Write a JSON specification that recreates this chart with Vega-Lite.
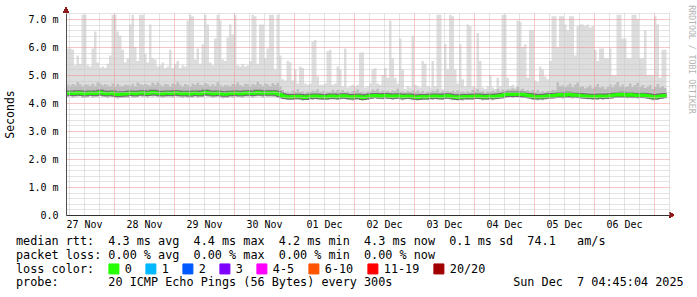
{
  "$schema": "https://vega.github.io/schema/vega-lite/v6.json",
  "width": 603,
  "height": 202,
  "autosize": "none",
  "padding": {"left": 66, "top": 13, "right": 28, "bottom": 82},
  "background": "white",
  "config": {
    "view": {"stroke": null},
    "font": "DejaVu Sans Mono",
    "axis": {"labelFont": "DejaVu Sans Mono", "labelFontSize": 10, "labelColor": "#000000", "titleFont": "DejaVu Sans Mono", "titleFontWeight": "normal", "titleColor": "#000000"}
  },
  "title": {
    "text": [
      "median rtt:\u00a0\u00a04.3 ms avg\u00a0\u00a04.4 ms max\u00a0\u00a04.2 ms min\u00a0\u00a04.3 ms now\u00a0\u00a00.1 ms sd\u00a0\u00a074.1\u00a0\u00a0\u00a0am/s",
      "packet loss: 0.00 % avg\u00a0\u00a00.00 % max\u00a0\u00a00.00 % min\u00a0\u00a00.00 % now",
      "loss color:",
      "probe:\u00a0\u00a0\u00a0\u00a0\u00a0\u00a0\u00a020 ICMP Echo Pings (56 Bytes) every 300s\u00a0\u00a0\u00a0\u00a0\u00a0\u00a0\u00a0\u00a0\u00a0\u00a0\u00a0\u00a0\u00a0\u00a0\u00a0\u00a0\u00a0Sun Dec\u00a0\u00a07 04:45:04 2025"
    ],
    "orient": "bottom",
    "anchor": "start",
    "frame": "group",
    "dx": -50,
    "offset": -40,
    "font": "DejaVu Sans Mono",
    "fontSize": 11.8,
    "fontWeight": "normal",
    "color": "#000000",
    "lineHeight": 13.8,
    "baseline": "top"
  },
  "data": {"values": [
{"t":"2025-11-27T05:00","lo":4.21,"mu":4.65,"m":4.35,"hi":5.95,"loss":"0"},
{"t":"2025-11-27T06:00","lo":4.24,"mu":4.62,"m":4.36,"hi":5.95,"loss":"0"},
{"t":"2025-11-27T07:00","lo":4.19,"mu":4.68,"m":4.34,"hi":5.9,"loss":"0"},
{"t":"2025-11-27T08:00","lo":4.22,"mu":4.63,"m":4.35,"hi":5.35,"loss":"0"},
{"t":"2025-11-27T09:00","lo":4.23,"mu":4.75,"m":4.37,"hi":5.7,"loss":"0"},
{"t":"2025-11-27T10:00","lo":4.24,"mu":4.67,"m":4.36,"hi":5.4,"loss":"0"},
{"t":"2025-11-27T11:00","lo":4.19,"mu":4.61,"m":4.34,"hi":7.15,"loss":"0"},
{"t":"2025-11-27T12:00","lo":4.20,"mu":4.66,"m":4.33,"hi":7.15,"loss":"0"},
{"t":"2025-11-27T13:00","lo":4.21,"mu":4.65,"m":4.35,"hi":5.35,"loss":"0"},
{"t":"2025-11-27T14:00","lo":4.24,"mu":4.62,"m":4.36,"hi":5.3,"loss":"0"},
{"t":"2025-11-27T15:00","lo":4.20,"mu":4.69,"m":4.35,"hi":5.95,"loss":"0"},
{"t":"2025-11-27T16:00","lo":4.21,"mu":4.62,"m":4.34,"hi":6.55,"loss":"0"},
{"t":"2025-11-27T17:00","lo":4.22,"mu":4.74,"m":4.36,"hi":5.45,"loss":"0"},
{"t":"2025-11-27T18:00","lo":4.26,"mu":4.69,"m":4.38,"hi":5.25,"loss":"0"},
{"t":"2025-11-27T19:00","lo":4.21,"mu":4.63,"m":4.36,"hi":5.3,"loss":"0"},
{"t":"2025-11-27T20:00","lo":4.21,"mu":4.67,"m":4.34,"hi":5.25,"loss":"0"},
{"t":"2025-11-27T21:00","lo":4.19,"mu":4.63,"m":4.33,"hi":5.4,"loss":"0"},
{"t":"2025-11-27T22:00","lo":4.23,"mu":4.61,"m":4.35,"hi":5.7,"loss":"0"},
{"t":"2025-11-27T23:00","lo":4.21,"mu":4.70,"m":4.36,"hi":7.15,"loss":"0"},
{"t":"2025-11-28T00:00","lo":4.19,"mu":4.60,"m":4.32,"hi":7.15,"loss":"0"},
{"t":"2025-11-28T01:00","lo":4.16,"mu":4.68,"m":4.30,"hi":6.55,"loss":"0"},
{"t":"2025-11-28T02:00","lo":4.19,"mu":4.62,"m":4.31,"hi":6.4,"loss":"0"},
{"t":"2025-11-28T03:00","lo":4.18,"mu":4.60,"m":4.33,"hi":5.9,"loss":"0"},
{"t":"2025-11-28T04:00","lo":4.19,"mu":4.65,"m":4.32,"hi":5.45,"loss":"0"},
{"t":"2025-11-28T05:00","lo":4.20,"mu":4.64,"m":4.34,"hi":5.6,"loss":"0"},
{"t":"2025-11-28T06:00","lo":4.24,"mu":4.62,"m":4.36,"hi":6.8,"loss":"0"},
{"t":"2025-11-28T07:00","lo":4.20,"mu":4.69,"m":4.35,"hi":7.15,"loss":"0"},
{"t":"2025-11-28T08:00","lo":4.20,"mu":4.61,"m":4.33,"hi":6.0,"loss":"0"},
{"t":"2025-11-28T09:00","lo":4.21,"mu":4.73,"m":4.35,"hi":5.5,"loss":"0"},
{"t":"2025-11-28T10:00","lo":4.24,"mu":4.67,"m":4.36,"hi":7.15,"loss":"0"},
{"t":"2025-11-28T11:00","lo":4.22,"mu":4.64,"m":4.37,"hi":7.15,"loss":"0"},
{"t":"2025-11-28T12:00","lo":4.22,"mu":4.68,"m":4.35,"hi":5.75,"loss":"0"},
{"t":"2025-11-28T13:00","lo":4.20,"mu":4.64,"m":4.34,"hi":5.45,"loss":"0"},
{"t":"2025-11-28T14:00","lo":4.24,"mu":4.62,"m":4.36,"hi":6.8,"loss":"0"},
{"t":"2025-11-28T15:00","lo":4.23,"mu":4.72,"m":4.38,"hi":5.6,"loss":"0"},
{"t":"2025-11-28T16:00","lo":4.24,"mu":4.65,"m":4.37,"hi":5.55,"loss":"0"},
{"t":"2025-11-28T17:00","lo":4.21,"mu":4.73,"m":4.35,"hi":5.3,"loss":"0"},
{"t":"2025-11-28T18:00","lo":4.22,"mu":4.65,"m":4.34,"hi":5.35,"loss":"0"},
{"t":"2025-11-28T19:00","lo":4.18,"mu":4.60,"m":4.33,"hi":5.45,"loss":"0"},
{"t":"2025-11-28T20:00","lo":4.22,"mu":4.68,"m":4.35,"hi":5.25,"loss":"0"},
{"t":"2025-11-28T21:00","lo":4.22,"mu":4.66,"m":4.36,"hi":5.3,"loss":"0"},
{"t":"2025-11-28T22:00","lo":4.22,"mu":4.60,"m":4.34,"hi":5.9,"loss":"0"},
{"t":"2025-11-28T23:00","lo":4.20,"mu":4.69,"m":4.35,"hi":5.25,"loss":"0"},
{"t":"2025-11-29T00:00","lo":4.24,"mu":4.65,"m":4.37,"hi":5.4,"loss":"0"},
{"t":"2025-11-29T01:00","lo":4.22,"mu":4.74,"m":4.36,"hi":5.5,"loss":"0"},
{"t":"2025-11-29T02:00","lo":4.22,"mu":4.65,"m":4.34,"hi":5.25,"loss":"0"},
{"t":"2025-11-29T03:00","lo":4.18,"mu":4.60,"m":4.33,"hi":5.35,"loss":"0"},
{"t":"2025-11-29T04:00","lo":4.22,"mu":4.68,"m":4.35,"hi":5.3,"loss":"0"},
{"t":"2025-11-29T05:00","lo":4.20,"mu":4.64,"m":4.34,"hi":6.95,"loss":"0"},
{"t":"2025-11-29T06:00","lo":4.20,"mu":4.58,"m":4.32,"hi":7.15,"loss":"0"},
{"t":"2025-11-29T07:00","lo":4.20,"mu":4.69,"m":4.35,"hi":7.1,"loss":"0"},
{"t":"2025-11-29T08:00","lo":4.23,"mu":4.64,"m":4.36,"hi":5.55,"loss":"0"},
{"t":"2025-11-29T09:00","lo":4.20,"mu":4.72,"m":4.34,"hi":5.95,"loss":"0"},
{"t":"2025-11-29T10:00","lo":4.21,"mu":4.64,"m":4.33,"hi":5.4,"loss":"0"},
{"t":"2025-11-29T11:00","lo":4.21,"mu":4.63,"m":4.36,"hi":6.1,"loss":"0"},
{"t":"2025-11-29T12:00","lo":4.25,"mu":4.71,"m":4.38,"hi":7.15,"loss":"0"},
{"t":"2025-11-29T13:00","lo":4.23,"mu":4.67,"m":4.37,"hi":6.8,"loss":"0"},
{"t":"2025-11-29T14:00","lo":4.23,"mu":4.61,"m":4.35,"hi":5.45,"loss":"0"},
{"t":"2025-11-29T15:00","lo":4.18,"mu":4.67,"m":4.33,"hi":5.35,"loss":"0"},
{"t":"2025-11-29T16:00","lo":4.21,"mu":4.62,"m":4.34,"hi":6.3,"loss":"0"},
{"t":"2025-11-29T17:00","lo":4.22,"mu":4.74,"m":4.36,"hi":7.15,"loss":"0"},
{"t":"2025-11-29T18:00","lo":4.22,"mu":4.65,"m":4.34,"hi":6.95,"loss":"0"},
{"t":"2025-11-29T19:00","lo":4.17,"mu":4.59,"m":4.32,"hi":5.55,"loss":"0"},
{"t":"2025-11-29T20:00","lo":4.18,"mu":4.64,"m":4.31,"hi":5.5,"loss":"0"},
{"t":"2025-11-29T21:00","lo":4.19,"mu":4.63,"m":4.33,"hi":6.35,"loss":"0"},
{"t":"2025-11-29T22:00","lo":4.23,"mu":4.61,"m":4.35,"hi":6.8,"loss":"0"},
{"t":"2025-11-29T23:00","lo":4.19,"mu":4.68,"m":4.34,"hi":6.45,"loss":"0"},
{"t":"2025-11-30T00:00","lo":4.23,"mu":4.64,"m":4.36,"hi":7.15,"loss":"0"},
{"t":"2025-11-30T01:00","lo":4.21,"mu":4.73,"m":4.35,"hi":5.35,"loss":"0"},
{"t":"2025-11-30T02:00","lo":4.21,"mu":4.64,"m":4.33,"hi":5.3,"loss":"0"},
{"t":"2025-11-30T03:00","lo":4.19,"mu":4.61,"m":4.34,"hi":5.4,"loss":"0"},
{"t":"2025-11-30T04:00","lo":4.23,"mu":4.69,"m":4.36,"hi":5.3,"loss":"0"},
{"t":"2025-11-30T05:00","lo":4.23,"mu":4.67,"m":4.37,"hi":5.35,"loss":"0"},
{"t":"2025-11-30T06:00","lo":4.23,"mu":4.61,"m":4.35,"hi":5.5,"loss":"0"},
{"t":"2025-11-30T07:00","lo":4.19,"mu":4.68,"m":4.34,"hi":7.15,"loss":"0"},
{"t":"2025-11-30T08:00","lo":4.23,"mu":4.64,"m":4.36,"hi":7.1,"loss":"0"},
{"t":"2025-11-30T09:00","lo":4.24,"mu":4.76,"m":4.38,"hi":5.4,"loss":"0"},
{"t":"2025-11-30T10:00","lo":4.24,"mu":4.67,"m":4.36,"hi":6.8,"loss":"0"},
{"t":"2025-11-30T11:00","lo":4.20,"mu":4.62,"m":4.35,"hi":6.8,"loss":"0"},
{"t":"2025-11-30T12:00","lo":4.24,"mu":4.70,"m":4.37,"hi":5.6,"loss":"0"},
{"t":"2025-11-30T13:00","lo":4.22,"mu":4.66,"m":4.36,"hi":5.95,"loss":"0"},
{"t":"2025-11-30T14:00","lo":4.23,"mu":4.61,"m":4.35,"hi":7.15,"loss":"0"},
{"t":"2025-11-30T15:00","lo":4.22,"mu":4.71,"m":4.37,"hi":7.15,"loss":"0"},
{"t":"2025-11-30T16:00","lo":4.23,"mu":4.64,"m":4.36,"hi":5.2,"loss":"0"},
{"t":"2025-11-30T17:00","lo":4.19,"mu":4.71,"m":4.33,"hi":7.15,"loss":"0"},
{"t":"2025-11-30T18:00","lo":4.18,"mu":4.61,"m":4.30,"hi":5.7,"loss":"0"},
{"t":"2025-11-30T19:00","lo":4.14,"mu":4.46,"m":4.26,"hi":4.85,"loss":"0"},
{"t":"2025-11-30T20:00","lo":4.14,"mu":4.37,"m":4.23,"hi":4.8,"loss":"0"},
{"t":"2025-11-30T21:00","lo":4.11,"mu":4.40,"m":4.22,"hi":5.5,"loss":"0"},
{"t":"2025-11-30T22:00","lo":4.11,"mu":4.36,"m":4.21,"hi":5.45,"loss":"0"},
{"t":"2025-11-30T23:00","lo":4.11,"mu":4.45,"m":4.23,"hi":4.8,"loss":"0"},
{"t":"2025-12-01T00:00","lo":4.13,"mu":4.39,"m":4.22,"hi":5.2,"loss":"0"},
{"t":"2025-12-01T01:00","lo":4.13,"mu":4.49,"m":4.24,"hi":4.7,"loss":"0"},
{"t":"2025-12-01T02:00","lo":4.13,"mu":4.39,"m":4.23,"hi":5.3,"loss":"0"},
{"t":"2025-12-01T03:00","lo":4.09,"mu":4.41,"m":4.21,"hi":5.25,"loss":"0"},
{"t":"2025-12-01T04:00","lo":4.11,"mu":4.34,"m":4.20,"hi":4.7,"loss":"0"},
{"t":"2025-12-01T05:00","lo":4.11,"mu":4.40,"m":4.22,"hi":4.65,"loss":"0"},
{"t":"2025-12-01T06:00","lo":4.14,"mu":4.39,"m":4.24,"hi":4.7,"loss":"0"},
{"t":"2025-12-01T07:00","lo":4.11,"mu":4.45,"m":4.23,"hi":6.2,"loss":"0"},
{"t":"2025-12-01T08:00","lo":4.16,"mu":4.42,"m":4.25,"hi":6.25,"loss":"0"},
{"t":"2025-12-01T09:00","lo":4.13,"mu":4.49,"m":4.24,"hi":4.95,"loss":"0"},
{"t":"2025-12-01T10:00","lo":4.12,"mu":4.38,"m":4.22,"hi":4.65,"loss":"0"},
{"t":"2025-12-01T11:00","lo":4.11,"mu":4.43,"m":4.23,"hi":4.65,"loss":"0"},
{"t":"2025-12-01T12:00","lo":4.12,"mu":4.35,"m":4.21,"hi":4.7,"loss":"0"},
{"t":"2025-12-01T13:00","lo":4.11,"mu":4.40,"m":4.22,"hi":5.85,"loss":"0"},
{"t":"2025-12-01T14:00","lo":4.14,"mu":4.39,"m":4.24,"hi":5.9,"loss":"0"},
{"t":"2025-12-01T15:00","lo":4.13,"mu":4.47,"m":4.25,"hi":4.65,"loss":"0"},
{"t":"2025-12-01T16:00","lo":4.14,"mu":4.40,"m":4.23,"hi":4.7,"loss":"0"},
{"t":"2025-12-01T17:00","lo":4.11,"mu":4.47,"m":4.22,"hi":5.3,"loss":"0"},
{"t":"2025-12-01T18:00","lo":4.14,"mu":4.40,"m":4.24,"hi":5.2,"loss":"0"},
{"t":"2025-12-01T19:00","lo":4.14,"mu":4.46,"m":4.26,"hi":4.6,"loss":"0"},
{"t":"2025-12-01T20:00","lo":4.16,"mu":4.39,"m":4.25,"hi":5.95,"loss":"0"},
{"t":"2025-12-01T21:00","lo":4.12,"mu":4.41,"m":4.23,"hi":4.55,"loss":"0"},
{"t":"2025-12-01T22:00","lo":4.12,"mu":4.37,"m":4.22,"hi":4.6,"loss":"0"},
{"t":"2025-12-01T23:00","lo":4.09,"mu":4.43,"m":4.21,"hi":4.65,"loss":"0"},
{"t":"2025-12-02T00:00","lo":4.14,"mu":4.40,"m":4.23,"hi":4.6,"loss":"0"},
{"t":"2025-12-02T01:00","lo":4.13,"mu":4.49,"m":4.24,"hi":4.65,"loss":"0"},
{"t":"2025-12-02T02:00","lo":4.12,"mu":4.38,"m":4.22,"hi":5.8,"loss":"0"},
{"t":"2025-12-02T03:00","lo":4.08,"mu":4.40,"m":4.20,"hi":5.8,"loss":"0"},
{"t":"2025-12-02T04:00","lo":4.12,"mu":4.35,"m":4.21,"hi":4.55,"loss":"0"},
{"t":"2025-12-02T05:00","lo":4.12,"mu":4.41,"m":4.23,"hi":4.6,"loss":"0"},
{"t":"2025-12-02T06:00","lo":4.15,"mu":4.40,"m":4.25,"hi":4.7,"loss":"0"},
{"t":"2025-12-02T07:00","lo":4.14,"mu":4.48,"m":4.26,"hi":5.2,"loss":"0"},
{"t":"2025-12-02T08:00","lo":4.18,"mu":4.44,"m":4.27,"hi":5.25,"loss":"0"},
{"t":"2025-12-02T09:00","lo":4.15,"mu":4.51,"m":4.26,"hi":4.7,"loss":"0"},
{"t":"2025-12-02T10:00","lo":4.14,"mu":4.40,"m":4.24,"hi":4.65,"loss":"0"},
{"t":"2025-12-02T11:00","lo":4.13,"mu":4.45,"m":4.25,"hi":5.0,"loss":"0"},
{"t":"2025-12-02T12:00","lo":4.18,"mu":4.41,"m":4.27,"hi":5.25,"loss":"0"},
{"t":"2025-12-02T13:00","lo":4.15,"mu":4.44,"m":4.26,"hi":4.9,"loss":"0"},
{"t":"2025-12-02T14:00","lo":4.14,"mu":4.39,"m":4.24,"hi":6.95,"loss":"0"},
{"t":"2025-12-02T15:00","lo":4.11,"mu":4.45,"m":4.23,"hi":5.6,"loss":"0"},
{"t":"2025-12-02T16:00","lo":4.16,"mu":4.42,"m":4.25,"hi":4.9,"loss":"0"},
{"t":"2025-12-02T17:00","lo":4.15,"mu":4.51,"m":4.26,"hi":4.7,"loss":"0"},
{"t":"2025-12-02T18:00","lo":4.14,"mu":4.40,"m":4.24,"hi":6.3,"loss":"0"},
{"t":"2025-12-02T19:00","lo":4.10,"mu":4.42,"m":4.22,"hi":5.2,"loss":"0"},
{"t":"2025-12-02T20:00","lo":4.14,"mu":4.37,"m":4.23,"hi":4.5,"loss":"0"},
{"t":"2025-12-02T21:00","lo":4.14,"mu":4.43,"m":4.25,"hi":4.6,"loss":"0"},
{"t":"2025-12-02T22:00","lo":4.14,"mu":4.39,"m":4.24,"hi":4.55,"loss":"0"},
{"t":"2025-12-02T23:00","lo":4.10,"mu":4.44,"m":4.22,"hi":6.4,"loss":"0"},
{"t":"2025-12-03T00:00","lo":4.12,"mu":4.38,"m":4.21,"hi":4.65,"loss":"0"},
{"t":"2025-12-03T01:00","lo":4.09,"mu":4.45,"m":4.20,"hi":4.6,"loss":"0"},
{"t":"2025-12-03T02:00","lo":4.12,"mu":4.38,"m":4.22,"hi":4.55,"loss":"0"},
{"t":"2025-12-03T03:00","lo":4.11,"mu":4.43,"m":4.23,"hi":5.5,"loss":"0"},
{"t":"2025-12-03T04:00","lo":4.12,"mu":4.35,"m":4.21,"hi":5.4,"loss":"0"},
{"t":"2025-12-03T05:00","lo":4.11,"mu":4.40,"m":4.22,"hi":4.6,"loss":"0"},
{"t":"2025-12-03T06:00","lo":4.14,"mu":4.39,"m":4.24,"hi":4.55,"loss":"0"},
{"t":"2025-12-03T07:00","lo":4.11,"mu":4.45,"m":4.23,"hi":5.5,"loss":"0"},
{"t":"2025-12-03T08:00","lo":4.16,"mu":4.42,"m":4.25,"hi":4.6,"loss":"0"},
{"t":"2025-12-03T09:00","lo":4.13,"mu":4.49,"m":4.24,"hi":7.15,"loss":"0"},
{"t":"2025-12-03T10:00","lo":4.12,"mu":4.38,"m":4.22,"hi":7.15,"loss":"0"},
{"t":"2025-12-03T11:00","lo":4.11,"mu":4.43,"m":4.23,"hi":4.5,"loss":"0"},
{"t":"2025-12-03T12:00","lo":4.16,"mu":4.39,"m":4.25,"hi":6.1,"loss":"0"},
{"t":"2025-12-03T13:00","lo":4.15,"mu":4.44,"m":4.26,"hi":5.2,"loss":"0"},
{"t":"2025-12-03T14:00","lo":4.14,"mu":4.39,"m":4.24,"hi":7.15,"loss":"0"},
{"t":"2025-12-03T15:00","lo":4.10,"mu":4.44,"m":4.22,"hi":7.1,"loss":"0"},
{"t":"2025-12-03T16:00","lo":4.12,"mu":4.38,"m":4.21,"hi":5.2,"loss":"0"},
{"t":"2025-12-03T17:00","lo":4.09,"mu":4.45,"m":4.20,"hi":4.7,"loss":"0"},
{"t":"2025-12-03T18:00","lo":4.12,"mu":4.38,"m":4.22,"hi":6.1,"loss":"0"},
{"t":"2025-12-03T19:00","lo":4.09,"mu":4.41,"m":4.21,"hi":4.85,"loss":"0"},
{"t":"2025-12-03T20:00","lo":4.14,"mu":4.37,"m":4.23,"hi":4.6,"loss":"0"},
{"t":"2025-12-03T21:00","lo":4.12,"mu":4.41,"m":4.23,"hi":6.8,"loss":"0"},
{"t":"2025-12-03T22:00","lo":4.12,"mu":4.37,"m":4.22,"hi":6.75,"loss":"0"},
{"t":"2025-12-03T23:00","lo":4.12,"mu":4.46,"m":4.24,"hi":4.6,"loss":"0"},
{"t":"2025-12-04T00:00","lo":4.14,"mu":4.40,"m":4.23,"hi":4.55,"loss":"0"},
{"t":"2025-12-04T01:00","lo":4.14,"mu":4.50,"m":4.25,"hi":6.5,"loss":"0"},
{"t":"2025-12-04T02:00","lo":4.14,"mu":4.40,"m":4.24,"hi":5.5,"loss":"0"},
{"t":"2025-12-04T03:00","lo":4.10,"mu":4.42,"m":4.22,"hi":4.55,"loss":"0"},
{"t":"2025-12-04T04:00","lo":4.12,"mu":4.35,"m":4.21,"hi":4.5,"loss":"0"},
{"t":"2025-12-04T05:00","lo":4.12,"mu":4.41,"m":4.23,"hi":4.6,"loss":"0"},
{"t":"2025-12-04T06:00","lo":4.14,"mu":4.39,"m":4.24,"hi":5.0,"loss":"0"},
{"t":"2025-12-04T07:00","lo":4.10,"mu":4.44,"m":4.22,"hi":4.55,"loss":"0"},
{"t":"2025-12-04T08:00","lo":4.14,"mu":4.40,"m":4.23,"hi":4.5,"loss":"0"},
{"t":"2025-12-04T09:00","lo":4.14,"mu":4.50,"m":4.25,"hi":4.9,"loss":"0"},
{"t":"2025-12-04T10:00","lo":4.16,"mu":4.42,"m":4.26,"hi":4.6,"loss":"0"},
{"t":"2025-12-04T11:00","lo":4.16,"mu":4.48,"m":4.28,"hi":7.15,"loss":"0"},
{"t":"2025-12-04T12:00","lo":4.21,"mu":4.44,"m":4.30,"hi":7.15,"loss":"0"},
{"t":"2025-12-04T13:00","lo":4.20,"mu":4.49,"m":4.31,"hi":4.9,"loss":"0"},
{"t":"2025-12-04T14:00","lo":4.22,"mu":4.47,"m":4.32,"hi":4.6,"loss":"0"},
{"t":"2025-12-04T15:00","lo":4.18,"mu":4.52,"m":4.30,"hi":4.65,"loss":"0"},
{"t":"2025-12-04T16:00","lo":4.22,"mu":4.48,"m":4.31,"hi":4.55,"loss":"0"},
{"t":"2025-12-04T17:00","lo":4.21,"mu":4.57,"m":4.32,"hi":6.95,"loss":"0"},
{"t":"2025-12-04T18:00","lo":4.20,"mu":4.46,"m":4.30,"hi":6.9,"loss":"0"},
{"t":"2025-12-04T19:00","lo":4.19,"mu":4.51,"m":4.31,"hi":6.0,"loss":"0"},
{"t":"2025-12-04T20:00","lo":4.20,"mu":4.43,"m":4.29,"hi":6.1,"loss":"0"},
{"t":"2025-12-04T21:00","lo":4.17,"mu":4.46,"m":4.28,"hi":4.9,"loss":"0"},
{"t":"2025-12-04T22:00","lo":4.16,"mu":4.41,"m":4.26,"hi":6.6,"loss":"0"},
{"t":"2025-12-04T23:00","lo":4.12,"mu":4.46,"m":4.24,"hi":6.6,"loss":"0"},
{"t":"2025-12-05T00:00","lo":4.13,"mu":4.39,"m":4.22,"hi":4.8,"loss":"0"},
{"t":"2025-12-05T01:00","lo":4.10,"mu":4.46,"m":4.21,"hi":4.75,"loss":"0"},
{"t":"2025-12-05T02:00","lo":4.13,"mu":4.39,"m":4.23,"hi":5.3,"loss":"0"},
{"t":"2025-12-05T03:00","lo":4.10,"mu":4.42,"m":4.22,"hi":5.2,"loss":"0"},
{"t":"2025-12-05T04:00","lo":4.15,"mu":4.38,"m":4.24,"hi":4.95,"loss":"0"},
{"t":"2025-12-05T05:00","lo":4.14,"mu":4.43,"m":4.25,"hi":4.85,"loss":"0"},
{"t":"2025-12-05T06:00","lo":4.17,"mu":4.42,"m":4.27,"hi":5.5,"loss":"0"},
{"t":"2025-12-05T07:00","lo":4.14,"mu":4.48,"m":4.26,"hi":7.1,"loss":"0"},
{"t":"2025-12-05T08:00","lo":4.19,"mu":4.45,"m":4.28,"hi":7.1,"loss":"0"},
{"t":"2025-12-05T09:00","lo":4.18,"mu":4.74,"m":4.29,"hi":6.0,"loss":"0"},
{"t":"2025-12-05T10:00","lo":4.20,"mu":4.60,"m":4.30,"hi":7.1,"loss":"0"},
{"t":"2025-12-05T11:00","lo":4.16,"mu":4.63,"m":4.28,"hi":7.1,"loss":"0"},
{"t":"2025-12-05T12:00","lo":4.20,"mu":4.56,"m":4.29,"hi":6.8,"loss":"0"},
{"t":"2025-12-05T13:00","lo":4.20,"mu":4.63,"m":4.31,"hi":6.6,"loss":"0"},
{"t":"2025-12-05T14:00","lo":4.20,"mu":4.70,"m":4.30,"hi":7.1,"loss":"0"},
{"t":"2025-12-05T15:00","lo":4.16,"mu":4.56,"m":4.28,"hi":7.1,"loss":"0"},
{"t":"2025-12-05T16:00","lo":4.20,"mu":4.65,"m":4.29,"hi":5.7,"loss":"0"},
{"t":"2025-12-05T17:00","lo":4.17,"mu":4.73,"m":4.28,"hi":6.75,"loss":"0"},
{"t":"2025-12-05T18:00","lo":4.17,"mu":4.57,"m":4.27,"hi":6.8,"loss":"0"},
{"t":"2025-12-05T19:00","lo":4.14,"mu":4.61,"m":4.26,"hi":6.8,"loss":"0"},
{"t":"2025-12-05T20:00","lo":4.16,"mu":4.52,"m":4.25,"hi":6.75,"loss":"0"},
{"t":"2025-12-05T21:00","lo":4.13,"mu":4.56,"m":4.24,"hi":6.8,"loss":"0"},
{"t":"2025-12-05T22:00","lo":4.13,"mu":4.63,"m":4.23,"hi":6.7,"loss":"0"},
{"t":"2025-12-05T23:00","lo":4.12,"mu":4.52,"m":4.24,"hi":6.75,"loss":"0"},
{"t":"2025-12-06T00:00","lo":4.13,"mu":4.58,"m":4.22,"hi":5.9,"loss":"0"},
{"t":"2025-12-06T01:00","lo":4.12,"mu":4.68,"m":4.23,"hi":5.5,"loss":"0"},
{"t":"2025-12-06T02:00","lo":4.15,"mu":4.55,"m":4.25,"hi":5.95,"loss":"0"},
{"t":"2025-12-06T03:00","lo":4.12,"mu":4.59,"m":4.24,"hi":5.95,"loss":"0"},
{"t":"2025-12-06T04:00","lo":4.14,"mu":4.50,"m":4.23,"hi":5.6,"loss":"0"},
{"t":"2025-12-06T05:00","lo":4.14,"mu":4.57,"m":4.25,"hi":5.6,"loss":"0"},
{"t":"2025-12-06T06:00","lo":4.16,"mu":4.66,"m":4.26,"hi":5.95,"loss":"0"},
{"t":"2025-12-06T07:00","lo":4.16,"mu":4.56,"m":4.28,"hi":5.0,"loss":"0"},
{"t":"2025-12-06T08:00","lo":4.20,"mu":4.65,"m":4.29,"hi":5.0,"loss":"0"},
{"t":"2025-12-06T09:00","lo":4.19,"mu":4.75,"m":4.30,"hi":7.15,"loss":"0"},
{"t":"2025-12-06T10:00","lo":4.19,"mu":4.59,"m":4.29,"hi":7.15,"loss":"0"},
{"t":"2025-12-06T11:00","lo":4.19,"mu":4.66,"m":4.31,"hi":6.3,"loss":"0"},
{"t":"2025-12-06T12:00","lo":4.20,"mu":4.56,"m":4.29,"hi":6.3,"loss":"0"},
{"t":"2025-12-06T13:00","lo":4.17,"mu":4.60,"m":4.28,"hi":5.6,"loss":"0"},
{"t":"2025-12-06T14:00","lo":4.20,"mu":4.70,"m":4.30,"hi":5.6,"loss":"0"},
{"t":"2025-12-06T15:00","lo":4.17,"mu":4.57,"m":4.29,"hi":7.15,"loss":"0"},
{"t":"2025-12-06T16:00","lo":4.19,"mu":4.64,"m":4.28,"hi":7.15,"loss":"0"},
{"t":"2025-12-06T17:00","lo":4.16,"mu":4.72,"m":4.27,"hi":7.0,"loss":"0"},
{"t":"2025-12-06T18:00","lo":4.18,"mu":4.58,"m":4.28,"hi":5.6,"loss":"0"},
{"t":"2025-12-06T19:00","lo":4.17,"mu":4.64,"m":4.29,"hi":5.6,"loss":"0"},
{"t":"2025-12-06T20:00","lo":4.18,"mu":4.54,"m":4.27,"hi":6.6,"loss":"0"},
{"t":"2025-12-06T21:00","lo":4.15,"mu":4.58,"m":4.26,"hi":5.0,"loss":"0"},
{"t":"2025-12-06T22:00","lo":4.14,"mu":4.64,"m":4.24,"hi":5.0,"loss":"0"},
{"t":"2025-12-06T23:00","lo":4.10,"mu":4.50,"m":4.22,"hi":5.0,"loss":"0"},
{"t":"2025-12-07T00:00","lo":4.12,"mu":4.57,"m":4.21,"hi":7.1,"loss":"0"},
{"t":"2025-12-07T01:00","lo":4.12,"mu":4.68,"m":4.23,"hi":6.8,"loss":"0"},
{"t":"2025-12-07T02:00","lo":4.15,"mu":4.55,"m":4.25,"hi":4.9,"loss":"0"},
{"t":"2025-12-07T03:00","lo":4.14,"mu":4.61,"m":4.26,"hi":5.9,"loss":"0"},
{"t":"2025-12-07T04:00","lo":4.18,"mu":4.54,"m":4.27,"hi":5.9,"loss":"0"},
{"t":"2025-12-07T05:00","lo":4.16,"mu":4.59,"m":4.27,"hi":5.9,"loss":"0"}
  ]},
  "encoding": {
    "x": {"field": "t", "type": "temporal",
      "scale": {"domain": [{"year": 2025, "month": 11, "date": 27, "hours": 4, "minutes": 48}, {"year": 2025, "month": 12, "date": 7, "hours": 6}]},
      "axis": {"ticks": false, "domain": true, "domainColor": "#303030",
        "tickCount": 40,
        "grid": true,
        "gridColor": {"condition": {"test": "hours(datum.value) == 0", "value": "#ee8f8f"}, "value": "#c8c8c8"},
        "gridDash": [1, 1],
        "labelExpr": "hours(datum.value) == 12 ? timeFormat(datum.value, '%d %b') : ''",
        "labelPadding": 4, "labelOverlap": false, "labelFlush": false, "zindex": 1,
        "title": "RRDTOOL / TOBI OETIKER", "titleAngle": 90, "titleColor": "#b4b4b4", "titleFontSize": 8.2,
        "titleX": 624, "titleY": -156, "titleAlign": "center", "titleBaseline": "middle"}},
    "y": {"type": "quantitative",
      "scale": {"domain": [0, 7.2143], "nice": false, "zero": false},
      "axis": {"values": [0,0.2,0.4,0.6,0.8,1,1.2,1.4,1.6,1.8,2,2.2,2.4,2.6,2.8,3,3.2,3.4,3.6,3.8,4,4.2,4.4,4.6,4.8,5,5.2,5.4,5.6,5.8,6,6.2,6.4,6.6,6.8,7,7.2],
        "labelExpr": "datum.value == 0 ? '0.0' : (datum.value % 1 == 0 ? format(datum.value, '.1f') + ' m' : '')",
        "labelPadding": 8, "ticks": false, "domain": true, "domainColor": "#505050",
        "grid": true,
        "gridColor": {"condition": {"test": "datum.value % 1 == 0", "value": "#ee8f8f"}, "value": "#c8c8c8"},
        "gridDash": [1, 1],
        "labelOverlap": false,
        "title": "Seconds", "titleFontSize": 11.5, "titleAngle": -90, "titleX": -56, "titleY": 101,
        "titleAlign": "center", "titleBaseline": "middle", "zindex": 1}}
  },
  "layer": [
    {
      "mark": {"type": "area", "interpolate": "step-after", "color": "#dddddd"},
      "encoding": {"y": {"field": "lo", "type": "quantitative"}, "y2": {"field": "hi"}}
    },
    {
      "mark": {"type": "area", "interpolate": "step-after", "color": "#bdbdbd"},
      "encoding": {"y": {"field": "lo", "type": "quantitative"}, "y2": {"field": "mu"}}
    },
    {
      "mark": {"type": "line", "interpolate": "step-after", "color": "#6e6e6e", "strokeWidth": 5},
      "encoding": {"y": {"field": "m", "type": "quantitative"}}
    },
    {
      "mark": {"type": "line", "interpolate": "step-after", "strokeWidth": 3},
      "encoding": {
        "y": {"field": "m", "type": "quantitative"},
        "color": {"field": "loss", "type": "nominal",
          "scale": {"domain": ["0", "1", "2", "3", "4-5", "6-10", "11-19", "20/20"],
                    "range": ["#26ff00", "#00b8ff", "#0059ff", "#7e00ff", "#ff00ff", "#ff5500", "#ff0000", "#a10000"]},
          "legend": {"title": null, "orient": "none", "legendX": 42, "legendY": 250, "direction": "horizontal", "columns": 8,
            "symbolType": "square", "symbolSize": 100, "symbolStrokeColor": "#000000", "symbolStrokeWidth": 1,
            "labelFont": "DejaVu Sans Mono", "labelFontSize": 11.8, "labelColor": "#000000", "labelOffset": 5,
            "columnPadding": 11, "padding": 0,
            "encode": {"symbols": {"update": {"fill": {"scale": "color", "field": "value"}, "fillOpacity": {"value": 1}, "stroke": {"value": "#000000"}, "strokeWidth": {"value": 1}}}}}}
      }
    },
    {
      "mark": {"type": "point", "shape": "triangle-up", "filled": true, "size": 30, "color": "#8b1a1a", "opacity": 1},
      "encoding": {
        "x": {"datum": {"year": 2025, "month": 11, "date": 27, "hours": 4, "minutes": 48}, "type": "temporal"},
        "y": {"datum": 7.33, "type": "quantitative"}
      }
    },
    {
      "mark": {"type": "point", "shape": "triangle-right", "filled": true, "size": 30, "color": "#8b1a1a", "opacity": 1},
      "encoding": {
        "x": {"datum": {"year": 2025, "month": 12, "date": 7, "hours": 7}, "type": "temporal"},
        "y": {"datum": 0, "type": "quantitative"}
      }
    }
  ]
}
